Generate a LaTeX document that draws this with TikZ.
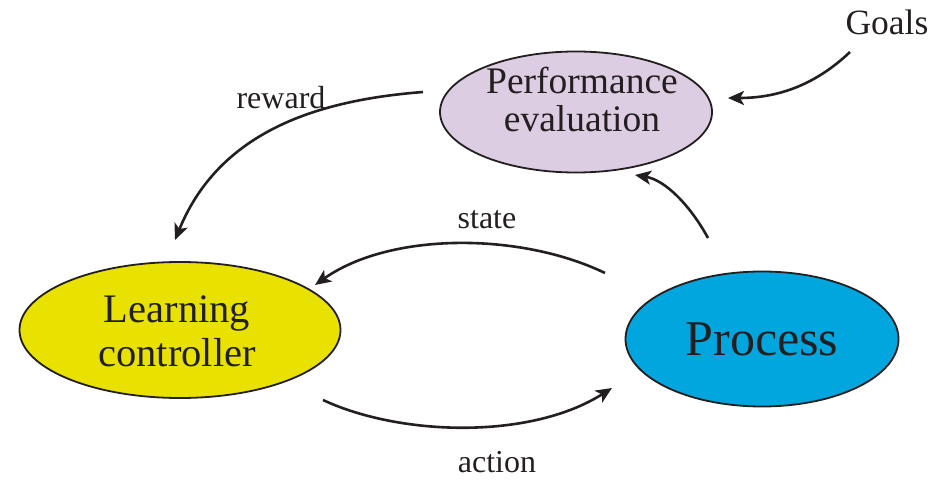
\documentclass[tikz,border=0pt]{standalone}
\usepackage{fontspec}
\setmainfont{Liberation Serif}
\usetikzlibrary{arrows.meta,calc,shapes.geometric}
\definecolor{ink}{HTML}{231F20}
\definecolor{lilac}{HTML}{DDCDE2}
\definecolor{lemon}{HTML}{E9E200}
\definecolor{sky}{HTML}{00A6DD}
\begin{document}
\begin{tikzpicture}[x=1pt,y=-1pt,
  blob/.style={ellipse,draw=ink,line width=1.8pt,inner sep=0pt,outer sep=0pt},
  txt/.style={align=center,text=ink,inner sep=0pt},
  flow/.style={draw=ink,line width=2.6pt,-{Stealth[length=16pt,width=14pt,inset=4pt]}},
  lbl/.style={text=ink,font=\fontsize{32}{36}\selectfont,inner sep=0pt}]
\useasboundingbox (0,0) rectangle (934,481);
\node[blob,fill=lilac,minimum width=272pt,minimum height=121pt] (perf) at (576,112) {};
\node[txt,font=\fontsize{37.5}{38}\selectfont] (perftxt) at (582,99) {Performance\\evaluation};
\node[blob,fill=lemon,minimum width=321pt,minimum height=136pt] (lc) at (180,330) {};
\node[txt,font=\fontsize{40.5}{44}\selectfont] (lctxt) at (177,331) {Learning\\controller};
\node[blob,fill=sky,minimum width=273pt,minimum height=135pt] (proc) at (762,339) {};
\node[txt,font=\fontsize{50}{54}\selectfont] (proctxt) at (762,339) {Process};

\node[lbl,font=\fontsize{35.5}{38}\selectfont] (goals) at (887,22) {Goals};
\node[lbl] (rwd) at (281,98) {reward};
\node[lbl] (st) at (487,220) {state};
\node[lbl] (act) at (497,462) {action};

% connector end points
\coordinate (g1) at ($(goals)+(-37,30)$);
\coordinate (g2) at ($(perf)+(152,-14)$);
\coordinate (r1) at ($(perf)+(-153,-20)$);
\coordinate (r2) at ($(lc)+(-5,-90)$);
\coordinate (p1) at ($(proc)+(-54,-101)$);
\coordinate (p2) at ($(perf)+(59,63)$);
\coordinate (s1) at ($(proc)+(-157,-66)$);
\coordinate (s2) at ($(lc)+(135,-45)$);
\coordinate (a1) at ($(lc)+(143,70)$);
\coordinate (a2) at ($(proc)+(-150,49)$);

\draw[flow] (g1) .. controls (810,90) and (770,98) .. (g2);
\draw[flow] (r1) .. controls (320,100) and (220,130) .. (r2);
\draw[flow] (p1) .. controls (690,205) and (665,180) .. (p2);
\draw[flow] (s1) .. controls (520,232) and (390,232) .. (s2);
\draw[flow] (a1) .. controls (400,436) and (530,440) .. (a2);
\end{tikzpicture}
\end{document}
